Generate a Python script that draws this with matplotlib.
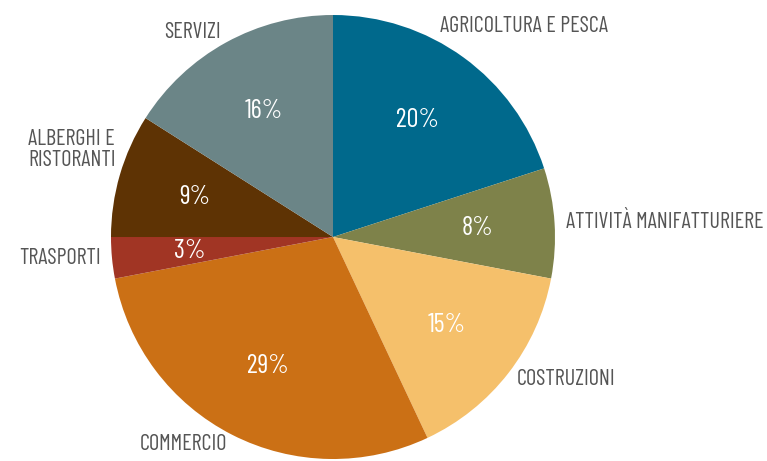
import numpy as np
import matplotlib.pyplot as plt

plt.rcParams['font.family'] = ['Barlow Condensed', 'DejaVu Sans']

settori = ['AGRICOLTURA E PESCA', 'ATTIVITÀ MANIFATTURIERE', 'COSTRUZIONI',
           'COMMERCIO', 'TRASPORTI', 'ALBERGHI E\nRISTORANTI', 'SERVIZI']
quote = [20, 8, 15, 29, 3, 9, 16]
colori = ['#00698c', '#7e824a', '#f5c06b', '#cb7015', '#a13524', '#5e3304', '#6b8587']

fig = plt.figure(figsize=(7.67, 4.61), dpi=100)
ax = fig.add_axes([0, 0, 1, 1])

wedges, texts, pcts = ax.pie(quote, labels=settori, colors=colori, startangle=90,
                             counterclock=False, autopct='%d%%', pctdistance=0.65,
                             labeldistance=1.05,
                             textprops=dict(color='#555555', fontsize=16))
for t in pcts:
    t.set_color('white')
    t.set_fontsize(19)

# small shifts so the labels sit like in the original
spost = {0: (9, 1.066), 5: (-5.6, 1.054)}
for i, (da, r) in spost.items():
    w = wedges[i]
    ang = np.deg2rad((w.theta1 + w.theta2) / 2 + da)
    texts[i].set_position((r * np.cos(ang), r * np.sin(ang)))
texts[5].set_multialignment('left')
texts[5].set_linespacing(1.0)

ax.set_xlim(-1.5, 1.955)
ax.set_ylim(-1.009, 1.0676)
ax.set_aspect('auto')
ax.axis('off')

fig.savefig('out.png', dpi=100)
